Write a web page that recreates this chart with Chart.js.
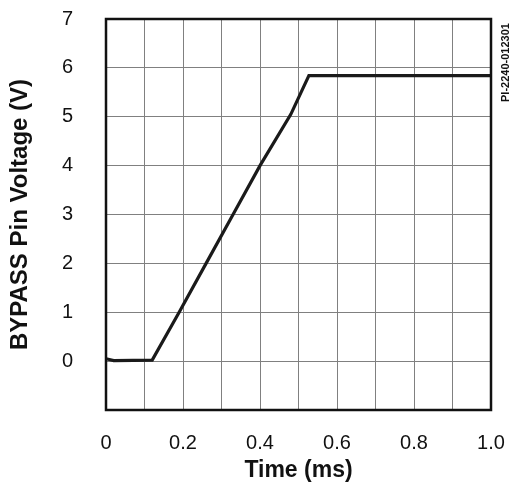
<!DOCTYPE html>
<html>
<head>
<meta charset="utf-8">
<script src="https://cdn.jsdelivr.net/npm/chart.js@4"></script>
<style>
html,body{margin:0;padding:0;background:#fff;}
#wrap{width:509px;height:488px;position:relative;}
</style>
</head>
<body>
<div id="wrap"><canvas id="c" width="509" height="488"></canvas></div>
<script>
const timeMs = [0, 0.02, 0.12, 0.19, 0.26, 0.33, 0.40, 0.48, 0.527, 1.0];
const voltage = [0.05, 0.01, 0.02, 1.0, 2.0, 3.0, 4.0, 5.05, 5.84, 5.84];
const xTickLabels = ["0", "0.2", "0.4", "0.6", "0.8", "1.0"];
const yTickLabels = ["0", "1", "2", "3", "4", "5", "6", "7"];
const xTitle = "Time (ms)";
const yTitle = "BYPASS Pin Voltage (V)";
const figId = "PI-2240-012301";

const FONT = "'Liberation Sans', Arial, Helvetica, sans-serif";

const framePlugin = {
  id: 'frame',
  afterDraw(chart) {
    const a = chart.chartArea, ctx = chart.ctx;
    ctx.save();
    ctx.strokeStyle = '#111';
    ctx.lineWidth = 2.5;
    ctx.strokeRect(a.left, a.top, a.right - a.left, a.bottom - a.top);
    ctx.translate(505.5, 102);
    ctx.rotate(-Math.PI / 2);
    ctx.fillStyle = '#111';
    ctx.font = "bold 11px " + FONT;
    ctx.textAlign = 'left';
    ctx.textBaseline = 'middle';
    ctx.fillText(figId, 0, 0);
    ctx.restore();
  }
};

new Chart(document.getElementById('c'), {
  type: 'line',
  data: {
    datasets: [{
      data: timeMs.map((t, i) => ({x: t, y: voltage[i]})),
      borderColor: '#1a1a1a',
      borderWidth: 3.2,
      pointRadius: 0,
      tension: 0,
      fill: false
    }]
  },
  options: {
    responsive: false,
    animation: false,
    layout: {padding: {top: 19, right: 18, left: 0, bottom: 0}},
    plugins: {legend: {display: false}, tooltip: {enabled: false}},
    scales: {
      x: {
        type: 'linear', min: 0, max: 1,
        ticks: {
          stepSize: 0.1, autoSkip: false, maxRotation: 0,
          padding: 21, color: '#111',
          font: {family: FONT, size: 20},
          callback: (v) => {
            const k = Math.round(v * 10);
            return k % 2 === 0 ? xTickLabels[k / 2] : '';
          }
        },
        grid: {color: '#808080', lineWidth: 1, drawTicks: false},
        border: {display: false},
        title: {display: true, text: xTitle, color: '#111',
          font: {family: FONT, size: 23, weight: 'bold'}, padding: {top: 2, bottom: 4}},
        afterFit: (s) => { s.height = 78; s.paddingLeft = 0; s.paddingRight = 0; }
      },
      y: {
        type: 'linear', min: -1, max: 7,
        ticks: {
          stepSize: 1, autoSkip: false, padding: 33, color: '#111',
          font: {family: FONT, size: 20},
          callback: (v) => v >= 0 ? yTickLabels[Math.round(v)] : ''
        },
        grid: {color: '#808080', lineWidth: 1, drawTicks: false},
        border: {display: false},
        title: {display: true, text: yTitle, color: '#111',
          font: {family: FONT, size: 24, weight: 'bold'}, padding: {top: 6, bottom: 0}},
        afterFit: (s) => { s.width = 106; s.paddingTop = 0; s.paddingBottom = 0; }
      }
    }
  },
  plugins: [framePlugin]
});
</script>
</body>
</html>
